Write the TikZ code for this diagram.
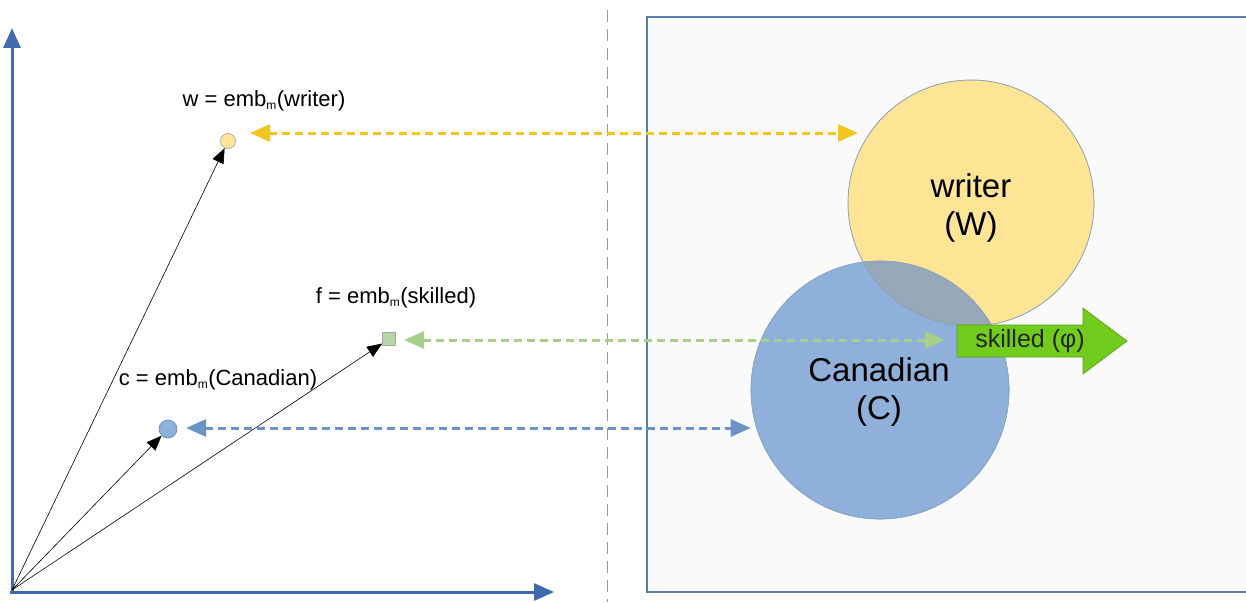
\documentclass[tikz,border=0pt]{standalone}
\usepackage{fontspec}
\setmainfont{Liberation Sans}
\usetikzlibrary{arrows.meta}
\definecolor{axisblue}{HTML}{3F6AAE}
\definecolor{boxblue}{HTML}{5A7DB0}
\definecolor{boxfill}{HTML}{FAFAFA}
\definecolor{wfill}{HTML}{FDE595}
\definecolor{cfill}{HTML}{8EB0DB}
\definecolor{lens}{HTML}{97A9B8}
\definecolor{ffill}{HTML}{B7D7A8}
\definecolor{ydash}{HTML}{F4C520}
\definecolor{gdash}{HTML}{A9CF8E}
\definecolor{bdash}{HTML}{6A93C8}
\definecolor{arrowgreen}{HTML}{72CC1E}
\definecolor{arrowedge}{HTML}{5AA018}
\newcommand{\embm}{emb\textsubscript{\fontsize{12}{12}\selectfont m}}
\tikzset{
  axis/.style={line width=3pt, draw=axisblue, -{Triangle[length=20pt,width=17pt]}},
  vec/.style={line width=0.6pt, draw=black, -{Triangle[length=15pt,width=12pt]}},
  link/.style={line width=3pt, dash pattern=on 8pt off 5pt,
    {Triangle[length=20pt,width=17pt]}-{Triangle[length=20pt,width=17pt]}},
  lbl/.style={font=\fontsize{22}{26}\selectfont, inner sep=0pt},
  big/.style={font=\fontsize{33}{38}\selectfont, align=center, inner sep=0pt},
  pt/.style={draw=gray!70, line width=0.7pt, inner sep=0pt},
}
\begin{document}
\begin{tikzpicture}[x=1pt, y=-1pt]
  \useasboundingbox (0,0) rectangle (1246,602);

  % concept space box (right panel)
  \path[fill=boxfill, draw=boxblue, line width=2.5pt] (1260,17) -- (647,17) -- (647,592) -- (1260,592);

  % separator
  \draw[gray!80, line width=1pt, dash pattern=on 12pt off 7pt] (607,10) -- (607,602);

  % embedding axes
  \coordinate (o) at (12,590);
  \coordinate (ytip) at (12,28);
  \coordinate (xtip) at (554,592);
  \draw[axis] (12,592) -- (ytip);
  \draw[axis] (10,592) -- (xtip);

  % embedded points
  \node[pt, circle, fill=wfill, minimum size=15pt] (w) at (228,141) {};
  \node[pt, rectangle, fill=ffill, minimum size=13pt] (f) at (389,339) {};
  \node[pt, circle, draw=cfill!80!black, fill=cfill, minimum size=18pt] (c) at (168,429) {};

  \draw[vec] (o) -- (w);
  \draw[vec] (o) -- (f);
  \draw[vec] (o) -- (c);

  \node[lbl] (wl) at (264,101) {w = \embm(writer)};
  \node[lbl] (fl) at (396,298) {f = \embm(skilled)};
  \node[lbl] (cl) at (218,380) {c = \embm(Canadian)};

  % concept regions
  \node[circle, minimum size=246pt, inner sep=0pt, fill=wfill, draw=gray!60, line width=0.6pt] (W) at (971,203) {};
  \node[circle, minimum size=258pt, inner sep=0pt, fill=cfill, draw=cfill!75!gray, line width=0.6pt] (C) at (880,390) {};
  \begin{scope}
    \clip (971,203) circle[radius=123];
    \fill[lens] (880,390) circle[radius=129];
  \end{scope}
  \draw[gray!45!cfill, line width=0.5pt] (971,203) circle[radius=123];
  \draw[cfill!70!gray, line width=0.6pt] (880,390) circle[radius=129];
  \node[big] (Wt) at (971,208) {writer\\(W)};
  \node[big] (Ct) at (879,392) {Canadian\\(C)};

  % feature direction
  \path[fill=arrowgreen, draw=arrowedge, line width=0.6pt]
    (957,325) -- (1083,325) -- (1083,308) -- (1127,341) -- (1083,374) -- (1083,357) -- (957,357) -- cycle;
  \node[font=\fontsize{25}{28}\selectfont, text=black!85, inner sep=0pt] (phi) at (1030,341) {skilled (φ)};
  \coordinate (fend) at (945,340);

  % correspondences between points and regions
  \draw[link, ydash] (250,133) -- (858,133);
  \draw[link, gdash] (404,340) -- (fend);
  \draw[link, bdash] (186,428) -- (C.west |- 0,428);
\end{tikzpicture}
\end{document}
